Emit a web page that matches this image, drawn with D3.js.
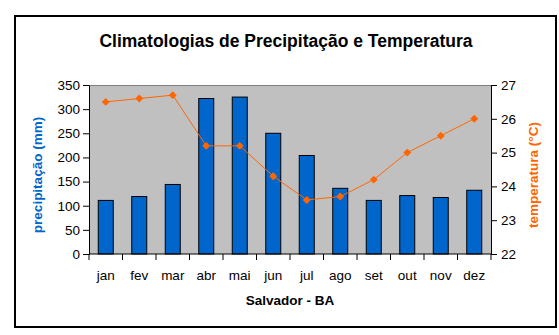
<!DOCTYPE html>
<html>
<head>
<meta charset="utf-8">
<script src="https://cdn.jsdelivr.net/npm/d3@7"></script>
<style>
  body { margin: 0; background: #fff; }
  text { font-family: "Liberation Sans", Arial, sans-serif; }
</style>
</head>
<body>
<div id="chart"></div>
<script>
const MESES = ['jan', 'fev', 'mar', 'abr', 'mai', 'jun', 'jul', 'ago', 'set', 'out', 'nov', 'dez'];
const PRECIPITACAO = [111, 119, 144, 322, 325, 250, 204, 136, 111, 121, 117, 132];
const TEMPERATURA = [26.5, 26.6, 26.7, 25.2, 25.2, 24.3, 23.6, 23.7, 24.2, 25.0, 25.5, 26.0];
const TICKS_PRECIP = [0, 50, 100, 150, 200, 250, 300, 350];
const TICKS_TEMP = [22, 23, 24, 25, 26, 27];

const W = 559, H = 335;
const plot = { left: 89, right: 491, top: 85, bottom: 254 };

const svg = d3.select('#chart')
  .append('svg')
  .attr('width', W)
  .attr('height', H);

// moldura externa
svg.append('rect')
  .attr('x', 15).attr('y', 16)
  .attr('width', 541).attr('height', 311)
  .attr('fill', 'none')
  .attr('stroke', '#000')
  .attr('stroke-width', 2);

svg.append('text')
  .attr('x', 286).attr('y', 47)
  .attr('text-anchor', 'middle')
  .style('font-size', '17.5px')
  .style('font-weight', 'bold')
  .text('Climatologias de Precipitação e Temperatura');

const x = d3.scaleBand()
  .domain(MESES)
  .range([plot.left, plot.right]);

const yP = d3.scaleLinear()
  .domain([0, 350])
  .range([plot.bottom, plot.top]);

const yT = d3.scaleLinear()
  .domain([22, 27])
  .range([plot.bottom, plot.top]);

// fundo cinza da área de plotagem
svg.append('rect')
  .attr('x', plot.left).attr('y', plot.top)
  .attr('width', plot.right - plot.left)
  .attr('height', plot.bottom - plot.top)
  .attr('fill', '#c0c0c0');

svg.append('line')
  .attr('x1', plot.left).attr('x2', plot.right)
  .attr('y1', plot.top + 0.5).attr('y2', plot.top + 0.5)
  .attr('stroke', '#808080');

const barW = 15;
svg.selectAll('.bar')
  .data(PRECIPITACAO)
  .join('rect')
  .attr('class', 'bar')
  .attr('x', (d, i) => x(MESES[i]) + x.bandwidth() / 2 - barW / 2)
  .attr('y', d => yP(d))
  .attr('width', barW)
  .attr('height', d => yP(0) - yP(d))
  .attr('fill', '#0066cc')
  .attr('stroke', '#000')
  .attr('stroke-width', 1);

const linha = d3.line()
  .x((d, i) => x(MESES[i]) + x.bandwidth() / 2)
  .y(d => yT(d));

svg.append('path')
  .datum(TEMPERATURA)
  .attr('d', linha)
  .attr('fill', 'none')
  .attr('stroke', '#ff6600')
  .attr('stroke-width', 1);

svg.selectAll('.ponto')
  .data(TEMPERATURA)
  .join('path')
  .attr('class', 'ponto')
  .attr('d', d3.symbol(d3.symbolDiamond2, 40))
  .attr('transform', (d, i) => 'translate(' + (x(MESES[i]) + x.bandwidth() / 2) + ',' + yT(d) + ')')
  .attr('fill', '#ff6600');

// eixos
const axisFont = g => g.selectAll('text')
  .style('font-size', '13.5px')
  .style('font-family', '"Liberation Sans", Arial, sans-serif')
  .attr('fill', '#000');

const eixoX = svg.append('g')
  .attr('transform', 'translate(0,' + plot.bottom + ')');
eixoX.append('line')
  .attr('x1', plot.left).attr('x2', plot.right)
  .attr('stroke', '#000');
eixoX.selectAll('.tick')
  .data(d3.range(MESES.length + 1))
  .join('line')
  .attr('x1', i => plot.left + i * x.step())
  .attr('x2', i => plot.left + i * x.step())
  .attr('y1', 0).attr('y2', 6)
  .attr('stroke', '#000');
eixoX.selectAll('.mes')
  .data(MESES)
  .join('text')
  .attr('x', d => x(d) + x.bandwidth() / 2)
  .attr('y', 26)
  .attr('text-anchor', 'middle')
  .style('font-size', '13.5px')
  .text(d => d);

svg.append('g')
  .attr('transform', 'translate(' + plot.left + ',0)')
  .call(d3.axisLeft(yP).tickValues(TICKS_PRECIP).tickSize(6).tickPadding(3).tickSizeOuter(0))
  .call(g => g.select('.domain').attr('stroke', '#000'))
  .call(axisFont);

svg.append('g')
  .attr('transform', 'translate(' + plot.right + ',0)')
  .call(d3.axisRight(yT).tickValues(TICKS_TEMP).tickFormat(d3.format('d'))
    .tickSize(6).tickPadding(4).tickSizeOuter(0))
  .call(g => g.select('.domain').attr('stroke', '#000'))
  .call(axisFont);

// títulos dos eixos
svg.append('text')
  .attr('transform', 'translate(42,175) rotate(-90)')
  .attr('text-anchor', 'middle')
  .style('font-size', '13.5px')
  .style('font-weight', 'bold')
  .attr('fill', '#0066cc')
  .text('precipitação (mm)');

svg.append('text')
  .attr('transform', 'translate(538,175) rotate(-90)')
  .attr('text-anchor', 'middle')
  .style('font-size', '13.5px')
  .style('font-weight', 'bold')
  .attr('fill', '#ff6600')
  .text('temperatura (°C)');

svg.append('text')
  .attr('x', 290).attr('y', 305)
  .attr('text-anchor', 'middle')
  .style('font-size', '13.5px')
  .style('font-weight', 'bold')
  .text('Salvador - BA');
</script>
</body>
</html>
